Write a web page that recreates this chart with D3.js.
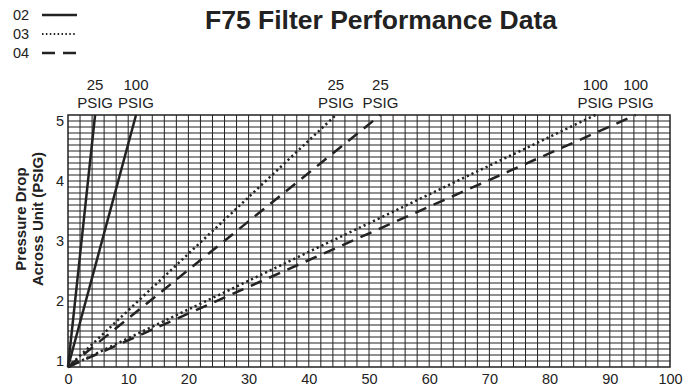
<!DOCTYPE html>
<html>
<head>
<meta charset="utf-8">
<script src="https://cdn.jsdelivr.net/npm/d3@7"></script>
<style>
  body { margin: 0; background: #fff; }
  text { font-family: Arial, "Liberation Sans", sans-serif; fill: #222; }
</style>
</head>
<body>
<svg id="chart" width="695" height="390"></svg>
<script>
// models shown in the legend, with their line style
var models = ["02", "03", "04"];
var modelStyles = { "02": "solid", "03": "dotted", "04": "dashed" };

// each curve: model, inlet pressure label, flow where it reaches 5 PSIG drop
var curveModels = ["02", "02", "03", "04", "03", "04"];
var curvePressures = ["25", "100", "25", "25", "100", "100"];
var curveStartDrop = [0.8, 0.8, 0.8, 0.8, 0.8, 0.8];
var curveEndFlow = [4.5, 11.3, 44.5, 51.9, 87.6, 94.3];
var curveEndDrop = [5, 5, 5, 5, 5, 5];

// tick labels
var xTicks = [0, 10, 20, 30, 40, 50, 60, 70, 80, 90, 100];
var yTicks = [1, 2, 3, 4, 5];

var svg = d3.select("#chart");

// set the ranges
var x = d3.scaleLinear().domain([0, 100]).range([68, 670]);
var y = d3.scaleLinear().domain([0.8, 5]).range([367, 115]);

var dashFor = { solid: null, dotted: "2.2,3", dashed: "12,8" };

// grid - verticals every 2, horizontals every 0.1
var grid = svg.append("g").attr("stroke", "#222").attr("stroke-width", 1);
grid.selectAll("line.v")
  .data(d3.range(2, 100, 2))
  .enter().append("line")
  .attr("class", "v")
  .attr("x1", function(d) { return x(d); })
  .attr("x2", function(d) { return x(d); })
  .attr("y1", y(0.8)).attr("y2", y(5));
grid.selectAll("line.h")
  .data(d3.range(9, 50, 1).map(function(d) { return d / 10; }))
  .enter().append("line")
  .attr("class", "h")
  .attr("x1", x(0)).attr("x2", x(100))
  .attr("y1", function(d) { return y(d); })
  .attr("y2", function(d) { return y(d); });

// frame
svg.append("rect")
  .attr("x", x(0)).attr("y", y(5))
  .attr("width", x(100) - x(0)).attr("height", y(0.8) - y(5))
  .attr("fill", "none").attr("stroke", "#222").attr("stroke-width", 1.5);

// curves
var line = d3.line().x(function(d) { return x(d[0]); }).y(function(d) { return y(d[1]); });
var curves = curveModels.map(function(m, i) {
  return { model: m, psig: curvePressures[i], pts: [[0, curveStartDrop[i]], [curveEndFlow[i], curveEndDrop[i]]] };
});

svg.append("g").selectAll("path")
  .data(curves)
  .enter().append("path")
  .attr("d", function(d) { return line(d.pts); })
  .attr("fill", "none")
  .attr("stroke", "#222")
  .attr("stroke-width", 2.5)
  .attr("stroke-dasharray", function(d) { return dashFor[modelStyles[d.model]]; });

// pressure labels above each curve end
var lab = svg.append("g").selectAll("text")
  .data(curves)
  .enter().append("text")
  .attr("text-anchor", "middle")
  .style("font-size", "15px");
lab.append("tspan")
  .attr("x", function(d) { return x(d.pts[1][0]); })
  .attr("y", 90)
  .text(function(d) { return d.psig; });
lab.append("tspan")
  .attr("x", function(d) { return x(d.pts[1][0]); })
  .attr("y", 108)
  .text("PSIG");

// axes
var xAxis = svg.append("g")
  .attr("transform", "translate(0," + y(0.8) + ")")
  .call(d3.axisBottom(x).tickValues(xTicks).tickSize(0).tickPadding(7));
xAxis.select(".domain").remove();
xAxis.selectAll("text").style("font-size", "14.5px").style("font-family", "Arial, 'Liberation Sans', sans-serif").attr("fill", "#222");

var yAxis = svg.append("g")
  .attr("transform", "translate(" + x(0) + ",0)")
  .call(d3.axisLeft(y).tickValues(yTicks).tickFormat(d3.format("d")).tickSize(0).tickPadding(4));
yAxis.select(".domain").remove();
yAxis.selectAll("text").style("font-size", "14.5px").style("font-family", "Arial, 'Liberation Sans', sans-serif").attr("fill", "#222").attr("dy", "0.7em");

// y axis title
var yt = svg.append("text")
  .attr("transform", "translate(26,219) rotate(-90)")
  .attr("text-anchor", "middle")
  .style("font-size", "15px").style("font-weight", "bold");
yt.append("tspan").attr("x", 0).attr("y", 0).text("Pressure Drop");
yt.append("tspan").attr("x", 0).attr("y", 17).text("Across Unit (PSIG)");

// title
svg.append("text")
  .attr("x", 381).attr("y", 29)
  .attr("text-anchor", "middle")
  .style("font-size", "26.5px").style("font-weight", "bold")
  .text("F75 Filter Performance Data");

// legend
var leg = svg.append("g").selectAll("g")
  .data(models)
  .enter().append("g")
  .attr("transform", function(d, i) { return "translate(0," + (15 + i * 19) + ")"; });
leg.append("text")
  .attr("x", 13).attr("dy", "0.35em")
  .style("font-size", "14.5px")
  .text(function(d) { return d; });
leg.append("line")
  .attr("x1", 42).attr("x2", 77)
  .attr("stroke", "#222")
  .attr("stroke-width", function(d) { return modelStyles[d] == "dotted" ? 2 : 2.5; })
  .attr("stroke-dasharray", function(d) {
    var s = modelStyles[d];
    if (s == "dotted") return "1.5,2.4";
    if (s == "dashed") return "13,8";
    return null;
  });
</script>
</body>
</html>
